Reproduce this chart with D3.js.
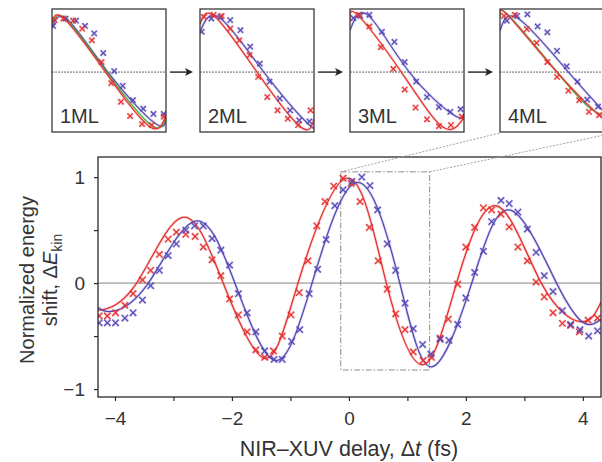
<!DOCTYPE html>
<html><head><meta charset="utf-8">
<script src="https://cdn.jsdelivr.net/npm/d3@7"></script>
<style>
body{margin:0;background:#fff}
svg{display:block}
text{font-family:"Liberation Sans",Arial,Helvetica,sans-serif;fill:#333}
</style>
</head><body>
<svg id="c" width="602" height="462"></svg>
<script>
// ---------------- DATA ----------------
const xTicks = [-4,-3,-2,-1,0,1,2,3,4];
const xTickLabels = [-4,-2,0,2,4];
const yTicks = [-1,-0.5,0,0.5,1];
const yTickLabels = [-1,0,1];

// main panel: measured points [delay fs, normalized shift]
const redPoints = [[-4.27,-0.31],[-4.13,-0.31],[-3.99,-0.28],[-3.83,-0.21],[-3.69,-0.10],[-3.53,0.03],[-3.39,0.12],[-3.24,0.27],[-3.09,0.415],[-2.95,0.48],[-2.79,0.46],[-2.63,0.44],[-2.49,0.34],[-2.34,0.22],[-2.19,0.07],[-2.04,-0.15],[-1.89,-0.30],[-1.74,-0.46],[-1.59,-0.63],[-1.44,-0.70],[-1.29,-0.64],[-1.14,-0.50],[-0.99,-0.30],[-0.85,-0.09],[-0.70,0.21],[-0.55,0.54],[-0.41,0.77],[-0.26,0.915],[-0.10,0.99],[0.04,0.94],[0.19,0.77],[0.35,0.525],[0.50,0.21],[0.655,-0.057],[0.80,-0.29],[0.96,-0.44],[1.10,-0.65],[1.27,-0.73],[1.41,-0.70],[1.56,-0.52],[1.70,-0.34],[1.86,-0.01],[2.0,0.34],[2.15,0.525],[2.30,0.71],[2.44,0.69],[2.60,0.65],[2.74,0.53],[2.89,0.34],[3.05,0.21],[3.20,0.01],[3.34,-0.13],[3.49,-0.28],[3.65,-0.38],[3.79,-0.40],[3.94,-0.46],[4.09,-0.35],[4.25,-0.33]];
const bluePoints = [[-4.27,-0.375],[-4.13,-0.375],[-3.99,-0.375],[-3.83,-0.33],[-3.69,-0.28],[-3.53,-0.16],[-3.39,-0.025],[-3.24,0.12],[-3.09,0.26],[-2.95,0.37],[-2.79,0.50],[-2.64,0.54],[-2.49,0.54],[-2.34,0.42],[-2.19,0.31],[-2.04,0.17],[-1.89,-0.10],[-1.74,-0.28],[-1.59,-0.46],[-1.44,-0.64],[-1.28,-0.72],[-1.14,-0.72],[-0.98,-0.55],[-0.84,-0.44],[-0.68,-0.10],[-0.535,0.13],[-0.39,0.41],[-0.24,0.73],[-0.10,0.88],[0.05,0.96],[0.22,1.0],[0.36,0.92],[0.49,0.69],[0.655,0.37],[0.80,0.12],[0.96,-0.19],[1.10,-0.43],[1.26,-0.58],[1.40,-0.67],[1.56,-0.53],[1.71,-0.54],[1.86,-0.39],[2.0,-0.14],[2.15,0.10],[2.30,0.30],[2.44,0.58],[2.60,0.78],[2.74,0.75],[2.89,0.67],[3.05,0.51],[3.20,0.29],[3.34,0.07],[3.49,-0.08],[3.65,-0.26],[3.79,-0.39],[3.95,-0.44],[4.10,-0.50],[4.25,-0.45]];
// fitted curves (key points: extrema and zero crossings)
const redFit = [[-4.29,-0.24],[-4.2,-0.25],[-3.63,0],[-2.85,0.62],[-2.15,0],[-1.44,-0.71],[-0.87,0],[-0.02,0.99],[0.64,0],[1.27,-0.77],[1.84,0],[2.52,0.73],[3.29,0],[3.98,-0.365],[4.31,-0.18]];
const blueFit = [[-4.29,-0.23],[-4.03,-0.265],[-3.43,0],[-2.63,0.585],[-1.95,0],[-1.26,-0.73],[-0.63,0],[0.15,0.95],[0.87,0],[1.42,-0.79],[2.10,0],[2.75,0.69],[3.55,0],[4.03,-0.38],[4.31,-0.34]];
// zoom window in main panel
const zoomWindowX = [-0.14, 1.38];
const zoomWindowY = [-0.82, 1.05];

// insets (normalized phase axis 0..1, normalized shift)
const insetLabels = ["1ML","2ML","3ML","4ML"];
const insetRedFit = [
  [[0,0.95],[0.11,1.0],[0.47,0],[0.85,-1.02],[1.0,-0.82]],
  [[0,0.9],[0.13,1.05],[0.5,0],[0.88,-1.03],[1,-0.88]],
  [[0,0.97],[0.07,1.07],[0.45,0],[0.81,-1.03],[1,-0.855]],
  [[0,1.05],[0.07,1.07],[0.5,0],[0.93,-0.92],[1,-0.9]]
];
const insetBlueFit = [
  [[0,0.82],[0.13,1.0],[0.49,0],[0.9,-0.96],[1.0,-0.86]],
  [[0,0.76],[0.17,1.03],[0.56,0],[0.95,-0.98],[1,-0.96]],
  [[0,0.79],[0.16,1.07],[0.52,0],[0.91,-0.81],[1,-0.78]],
  [[0,0.78],[0.16,1.01],[0.6,0],[1.0,-0.95]]
];
const insetGreenFit = [
  [[0,0.9],[0.12,1.0],[0.48,0],[0.87,-1.0],[1.0,-0.84]],
  null,
  null,
  [[0,1.03],[0.08,1.06],[0.5,0],[0.79,-0.68],[0.95,-0.84],[1,-0.84]]
];
const insetRedPoints = [
  [[0.024,0.98],[0.10,1.01],[0.185,0.97],[0.265,0.82],[0.35,0.60],[0.435,0.19],[0.52,-0.21],[0.605,-0.56],[0.685,-0.83],[0.79,-0.98],[0.875,-1.0],[0.98,-0.84]],
  [[0.035,1.04],[0.12,1.08],[0.19,1.06],[0.265,0.82],[0.345,0.60],[0.435,0.32],[0.51,-0.09],[0.59,-0.47],[0.68,-0.72],[0.77,-0.88],[0.86,-1.0],[0.97,-0.72]],
  [[0.08,1.08],[0.17,0.86],[0.27,0.47],[0.38,0.06],[0.48,-0.33],[0.575,-0.67],[0.675,-0.89],[0.78,-1.02],[0.885,-1.0],[0.98,-0.84]],
  [[0.035,1.06],[0.13,1.08],[0.235,0.81],[0.32,0.55],[0.415,0.19],[0.50,-0.09],[0.60,-0.35],[0.695,-0.53],[0.78,-0.75],[0.87,-0.81]]
];
const insetBluePoints = [
  [[0.01,0.87],[0.12,1.01],[0.21,0.97],[0.29,0.87],[0.37,0.73],[0.45,0.36],[0.545,0.02],[0.62,-0.26],[0.71,-0.53],[0.80,-0.69],[0.89,-0.79],[0.98,-0.79]],
  [[0.015,0.76],[0.10,1.01],[0.18,1.04],[0.265,0.98],[0.355,0.79],[0.44,0.48],[0.525,0.16],[0.61,-0.18],[0.70,-0.50],[0.79,-0.72],[0.87,-0.91],[0.96,-0.93]],
  [[0.03,1.02],[0.09,1.06],[0.17,1.08],[0.28,0.76],[0.39,0.57],[0.48,0.19],[0.58,-0.18],[0.675,-0.47],[0.78,-0.66],[0.88,-0.75],[0.97,-0.7]],
  [[0.06,0.97],[0.15,1.06],[0.24,1.09],[0.33,0.86],[0.415,0.75],[0.50,0.40],[0.585,0.11],[0.68,-0.18],[0.765,-0.52],[0.86,-0.65]]
];

// ---------------- DRAWING ----------------
const RED = "#e5302f", BLUE = "#5448b6", GREEN = "#3fb23f", INK = "#2a2a2a";
const svg = d3.select("#c");
const defs = svg.append("defs");

const M = {left:98, top:157, right:601, bottom:397};
const x = d3.scaleLinear().domain([-4.29, 4.31]).range([M.left, M.right]);
const y = d3.scaleLinear().domain([-1.075, 1.19]).range([M.bottom, M.top]);

defs.append("clipPath").attr("id","mainclip").append("rect")
  .attr("x",M.left).attr("y",M.top).attr("width",M.right-M.left).attr("height",M.bottom-M.top);

const crossPath = s => `M${-s},${-s}L${s},${s}M${-s},${s}L${s},${-s}`;

function drawCrosses(g, pts, sx, sy, color, s){
  const sel = g.append("g");
  sel.selectAll("path.h").data(pts).join("path").attr("class","h")
    .attr("d", crossPath(s)).attr("transform", d=>`translate(${sx(d[0])},${sy(d[1])})`)
    .attr("fill","none").attr("stroke",color).attr("stroke-width",3).attr("stroke-opacity",0.22);
  sel.selectAll("path.m").data(pts).join("path").attr("class","m")
    .attr("d", crossPath(s)).attr("transform", d=>`translate(${sx(d[0])},${sy(d[1])})`)
    .attr("fill","none").attr("stroke",color).attr("stroke-width",1.2);
}
function drawFit(g, pts, sx, sy, color, w){
  const line = d3.line().x(d=>sx(d[0])).y(d=>sy(d[1])).curve(d3.curveNatural);
  g.append("path").attr("d", line(pts)).attr("fill","none")
    .attr("stroke",color).attr("stroke-width",w+1.6).attr("stroke-opacity",0.18);
  g.append("path").attr("d", line(pts)).attr("fill","none")
    .attr("stroke",color).attr("stroke-width",w);
}

// zero line
const plot = svg.append("g").attr("clip-path","url(#mainclip)");
plot.append("line").attr("x1",M.left).attr("x2",M.right).attr("y1",y(0)).attr("y2",y(0))
  .attr("stroke","#b8b8b8").attr("stroke-width",1.6);

// zoom window rectangle
plot.append("rect")
  .attr("x", x(zoomWindowX[0])).attr("y", y(zoomWindowY[1]))
  .attr("width", x(zoomWindowX[1]) - x(zoomWindowX[0]))
  .attr("height", y(zoomWindowY[0]) - y(zoomWindowY[1]))
  .attr("fill","none").attr("stroke","#8a8a8a").attr("stroke-width",1)
  .attr("stroke-dasharray","6,2,1.5,2");

drawFit(plot, redFit, x, y, RED, 1.3);
drawFit(plot, blueFit, x, y, BLUE, 1.3);
drawCrosses(plot, redPoints, x, y, RED, 3.2);
drawCrosses(plot, bluePoints, x, y, BLUE, 3.2);

// frame
svg.append("rect").attr("x",M.left).attr("y",M.top).attr("width",M.right-M.left).attr("height",M.bottom-M.top)
  .attr("fill","none").attr("stroke",INK).attr("stroke-width",1.3);

// axes
const fmt = d3.format("d");
const xAxis = d3.axisBottom(x).tickValues(xTicks).tickSize(4).tickPadding(11)
  .tickFormat(d => xTickLabels.includes(d) ? fmt(d) : "");
const gx = svg.append("g").attr("transform",`translate(0,${M.bottom})`).call(xAxis);
gx.select(".domain").remove();
gx.selectAll("line").attr("stroke",INK).attr("stroke-width",1.2);
gx.selectAll("text").attr("font-size","19px").attr("fill","#333").attr("font-family",null);

const yAxis = d3.axisLeft(y).tickValues(yTicks).tickSize(4).tickPadding(9)
  .tickFormat(d => yTickLabels.includes(d) ? fmt(d) : "");
const gy = svg.append("g").attr("transform",`translate(${M.left},0)`).call(yAxis);
gy.select(".domain").remove();
gy.selectAll("line").attr("stroke",INK).attr("stroke-width",1.2);
gy.selectAll("text").attr("font-size","19px").attr("fill","#333").attr("font-family",null);

// axis titles
const xt = svg.append("text").attr("x", x(0)).attr("y", 456).attr("text-anchor","middle").attr("font-size","21.5px");
xt.append("tspan").text("NIR–XUV delay, Δ");
xt.append("tspan").attr("font-style","italic").text("t");
xt.append("tspan").text(" (fs)");

const yMid = (M.top + M.bottom)/2 + 3;
svg.append("text").attr("transform",`translate(34,${yMid}) rotate(-90)`).attr("text-anchor","middle")
  .attr("font-size","20px").text("Normalized energy");
const yt2 = svg.append("text").attr("transform",`translate(57,${yMid}) rotate(-90)`).attr("text-anchor","middle")
  .attr("font-size","20px");
yt2.append("tspan").text("shift, Δ");
yt2.append("tspan").attr("font-style","italic").text("E");
yt2.append("tspan").attr("font-size","14px").attr("dy","5").text("kin");

// ---------------- INSETS ----------------
const insetLeft = [52, 200, 350, 500];
const IW = 114, IT = 9, IB = 132;
const yIn = d3.scaleLinear().domain([-1.13, 1.19]).range([IB, IT]);

insetLabels.forEach((lab, i) => {
  const L = insetLeft[i];
  const xIn = d3.scaleLinear().domain([0,1]).range([L, L+IW]);
  defs.append("clipPath").attr("id","ic"+i).append("rect")
    .attr("x",L).attr("y",IT).attr("width",IW).attr("height",IB-IT);
  const g = svg.append("g");
  const gc = g.append("g").attr("clip-path",`url(#ic${i})`);
  gc.append("line").attr("x1",L).attr("x2",L+IW).attr("y1",yIn(0)).attr("y2",yIn(0))
    .attr("stroke","#a8a8a8").attr("stroke-width",1.8).attr("stroke-dasharray","2,1");
  drawFit(gc, insetBlueFit[i], xIn, yIn, BLUE, 1.2);
  if (insetGreenFit[i]) drawFit(gc, insetGreenFit[i], xIn, yIn, GREEN, 1.1);
  drawFit(gc, insetRedFit[i], xIn, yIn, RED, 1.2);
  drawCrosses(gc, insetBluePoints[i], xIn, yIn, BLUE, 2.7);
  drawCrosses(gc, insetRedPoints[i], xIn, yIn, RED, 2.7);
  g.append("rect").attr("x",L).attr("y",IT).attr("width",IW).attr("height",IB-IT)
    .attr("fill","none").attr("stroke","#3a3a3a").attr("stroke-width",1.3);
  g.append("text").attr("x",L+8).attr("y",IB-9).attr("font-size","20px").text(lab);
  // arrow to next inset
  if (i < insetLabels.length-1) {
    const x1 = L+IW+4, x2 = insetLeft[i+1]-7, ay = yIn(0);
    svg.append("line").attr("x1",x1).attr("x2",x2-6).attr("y1",ay).attr("y2",ay)
      .attr("stroke","#222").attr("stroke-width",1.4);
    svg.append("path").attr("d",`M${x2},${ay}L${x2-8},${ay-4}L${x2-6},${ay}L${x2-8},${ay+4}Z`).attr("fill","#222");
  }
});

// connector lines from zoom window to last inset
const lastL = insetLeft[3];
svg.append("line").attr("x1",x(zoomWindowX[0])).attr("y1",y(zoomWindowY[1]))
  .attr("x2",lastL).attr("y2",IB+1).attr("stroke","#a0a0a0").attr("stroke-width",1).attr("stroke-dasharray","2,1.5");
svg.append("line").attr("x1",x(zoomWindowX[1])).attr("y1",y(zoomWindowY[1]))
  .attr("x2",lastL+IW).attr("y2",IB+1).attr("stroke","#a0a0a0").attr("stroke-width",1).attr("stroke-dasharray","2,1.5");
</script>
</body></html>
